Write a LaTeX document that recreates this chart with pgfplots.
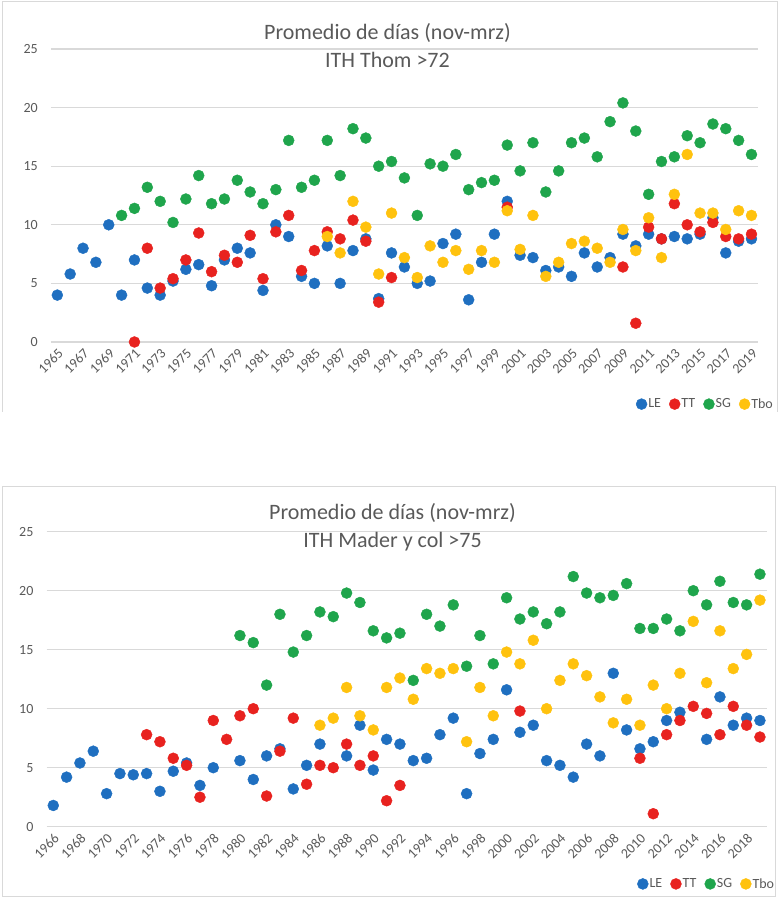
\documentclass[border=0pt]{standalone}
\usepackage{fontspec}
\setmainfont{Carlito}
\usepackage{pgfplots}
\pgfplotsset{compat=1.18}
\definecolor{cLE}{HTML}{1F6FC0}
\definecolor{cTT}{HTML}{E8221F}
\definecolor{cSG}{HTML}{1FA54C}
\definecolor{cTbo}{HTML}{FFC20E}
\definecolor{txt}{HTML}{595959}
\definecolor{grd}{HTML}{D9D9D9}
\pgfplotsset{
  excel/.style={
    scale only axis, clip=false,
    ymin=0, ymax=25, ytick={0,5,...,25},
    ymajorgrids, grid style={grd, line width=1.3pt},
    axis line style={draw=none}, major tick length=0pt,
    tick label style={font=\fontsize{14}{16}\selectfont, text=txt},
    /pgf/number format/assume math mode=true,
    /pgf/number format/1000 sep={},
    yticklabel style={anchor=east, inner sep=0pt, xshift=-13pt},
    xticklabel style={yshift=-9pt, xshift=3.5pt, rotate=45, anchor=east, inner sep=0pt},
    legend columns=4,
    legend style={draw=none, fill=none, font=\fontsize{14}{16}\selectfont, text=txt, anchor=center,
      /tikz/every even column/.append style={column sep=7pt}, nodes={inner sep=1pt}},
  },
  le/.style={only marks, mark=*, color=cLE, mark size=5.5pt, legend image code/.code={\fill[cLE] (0pt,0pt) circle (5.5pt);}},
  tt/.style={only marks, mark=*, color=cTT, mark size=5.5pt, legend image code/.code={\fill[cTT] (0pt,0pt) circle (5.5pt);}},
  sg/.style={only marks, mark=*, color=cSG, mark size=5.5pt, legend image code/.code={\fill[cSG] (0pt,0pt) circle (5.5pt);}},
  tbo/.style={only marks, mark=*, color=cTbo, mark size=5.5pt, legend image code/.code={\fill[cTbo] (0pt,0pt) circle (5.5pt);}},
}
\begin{document}
\begin{tikzpicture}[x=1pt,y=1pt]
\useasboundingbox (0pt,0pt) rectangle (780pt,899pt);
\draw[grd, line width=1pt] (2pt,487pt) -- (2pt,897pt) -- (777pt,897pt) -- (777pt,487pt);
\draw[grd, line width=1pt] (2pt,2pt) rectangle (775pt,412pt);
% ---------------- top chart
\begin{axis}[excel, at={(50.9pt,557pt)}, anchor=south west, width=707pt, height=293pt,
  xmin=1964.5, xmax=2019.5, xtick={1965,1967,...,2019},
  legend style={at={(0.925,-0.212)}}]
\addplot[le] coordinates {(1965,4.0) (1966,5.8) (1967,8.0) (1968,6.8) (1969,10.0) (1970,4.0) (1971,7.0) (1972,4.6) (1973,4.0) (1974,5.2) (1975,6.2) (1976,6.6) (1977,4.8) (1978,7.0) (1979,8.0) (1980,7.6) (1981,4.4) (1982,10.0) (1983,9.0) (1984,5.6) (1985,5.0) (1986,8.2) (1987,5.0) (1988,7.8) (1989,8.8) (1990,3.7) (1991,7.6) (1992,6.4) (1993,5.0) (1994,5.2) (1995,8.4) (1996,9.2) (1997,3.6) (1998,6.8) (1999,9.2) (2000,12.0) (2001,7.4) (2002,7.2) (2003,6.1) (2004,6.4) (2005,5.6) (2006,7.6) (2007,6.4) (2008,7.2) (2009,9.2) (2010,8.2) (2011,9.2) (2012,8.8) (2013,9.0) (2014,8.8) (2015,9.2) (2016,10.6) (2017,7.6) (2018,8.6) (2019,8.8)};
\addlegendentry{LE}
\addplot[tt] coordinates {(1971,0) (1972,8.0) (1973,4.6) (1974,5.4) (1975,7.0) (1976,9.3) (1977,6.0) (1978,7.4) (1979,6.8) (1980,9.1) (1981,5.4) (1982,9.4) (1983,10.8) (1984,6.1) (1985,7.8) (1986,9.4) (1987,8.8) (1988,10.4) (1989,8.6) (1990,3.4) (1991,5.5) (2000,11.5) (2009,6.4) (2010,1.6) (2011,9.8) (2012,8.8) (2013,11.8) (2014,10.0) (2015,9.4) (2016,10.2) (2017,9.0) (2018,8.8) (2019,9.2)};
\addlegendentry{TT}
\addplot[sg] coordinates {(1970,10.8) (1971,11.4) (1972,13.2) (1973,12.0) (1974,10.2) (1975,12.2) (1976,14.2) (1977,11.8) (1978,12.2) (1979,13.8) (1980,12.8) (1981,11.8) (1982,13.0) (1983,17.2) (1984,13.2) (1985,13.8) (1986,17.2) (1987,14.2) (1988,18.2) (1989,17.4) (1990,15.0) (1991,15.4) (1992,14.0) (1993,10.8) (1994,15.2) (1995,15.0) (1996,16.0) (1997,13.0) (1998,13.6) (1999,13.8) (2000,16.8) (2001,14.6) (2002,17.0) (2003,12.8) (2004,14.6) (2005,17.0) (2006,17.4) (2007,15.8) (2008,18.8) (2009,20.4) (2010,18.0) (2011,12.6) (2012,15.4) (2013,15.8) (2014,17.6) (2015,17.0) (2016,18.6) (2017,18.2) (2018,17.2) (2019,16.0)};
\addlegendentry{SG}
\addplot[tbo] coordinates {(1986,9.0) (1987,7.6) (1988,12.0) (1989,9.8) (1990,5.8) (1991,11.0) (1992,7.2) (1993,5.5) (1994,8.2) (1995,6.8) (1996,7.8) (1997,6.2) (1998,7.8) (1999,6.8) (2000,11.2) (2001,7.9) (2002,10.8) (2003,5.6) (2004,6.8) (2005,8.4) (2006,8.6) (2007,8.0) (2008,6.8) (2009,9.6) (2010,7.8) (2011,10.6) (2012,7.2) (2013,12.6) (2014,16.0) (2015,11.0) (2016,11.0) (2017,9.6) (2018,11.2) (2019,10.8)};
\addlegendentry{Tbo}
\end{axis}
\node[font=\fontsize{22}{26}\selectfont, text=txt] at (387.5pt,866pt) {Promedio de días (nov-mrz)};
\node[font=\fontsize{22}{26}\selectfont, text=txt] at (387.5pt,839pt) {ITH Thom >72};
% ---------------- bottom chart
\begin{axis}[excel, at={(46.6pt,72.3pt)}, anchor=south west, width=720pt, height=295pt,
  xmin=1965.5, xmax=2019.5, xtick={1966,1968,...,2018},
  legend style={at={(0.916,-0.194)}}]
\addplot[le] coordinates {(1966,1.8) (1967,4.2) (1968,5.4) (1969,6.4) (1970,2.8) (1971,4.5) (1972,4.4) (1973,4.5) (1974,3.0) (1975,4.7) (1976,5.4) (1977,3.5) (1978,5.0) (1980,5.6) (1981,4.0) (1982,6.0) (1983,6.6) (1984,3.2) (1985,5.2) (1986,7.0) (1988,6.0) (1989,8.6) (1990,4.8) (1991,7.4) (1992,7.0) (1993,5.6) (1994,5.8) (1995,7.8) (1996,9.2) (1997,2.8) (1998,6.2) (1999,7.4) (2000,11.6) (2001,8.0) (2002,8.6) (2003,5.6) (2004,5.2) (2005,4.2) (2006,7.0) (2007,6.0) (2008,13.0) (2009,8.2) (2010,6.6) (2011,7.2) (2012,9.0) (2013,9.7) (2015,7.4) (2016,11.0) (2017,8.6) (2018,9.2) (2019,9.0)};
\addlegendentry{LE}
\addplot[tt] coordinates {(1973,7.8) (1974,7.2) (1975,5.8) (1976,5.2) (1977,2.5) (1978,9.0) (1979,7.4) (1980,9.4) (1981,10.0) (1982,2.6) (1983,6.4) (1984,9.2) (1985,3.6) (1986,5.2) (1987,5.0) (1988,7.0) (1989,5.2) (1990,6.0) (1991,2.2) (1992,3.5) (2001,9.8) (2010,5.8) (2011,1.1) (2012,7.8) (2013,9.0) (2014,10.2) (2015,9.6) (2016,7.8) (2017,10.2) (2018,8.6) (2019,7.6)};
\addlegendentry{TT}
\addplot[sg] coordinates {(1980,16.2) (1981,15.6) (1982,12.0) (1983,18.0) (1984,14.8) (1985,16.2) (1986,18.2) (1987,17.8) (1988,19.8) (1989,19.0) (1990,16.6) (1991,16.0) (1992,16.4) (1993,12.4) (1994,18.0) (1995,17.0) (1996,18.8) (1997,13.6) (1998,16.2) (1999,13.8) (2000,19.4) (2001,17.6) (2002,18.2) (2003,17.2) (2004,18.2) (2005,21.2) (2006,19.8) (2007,19.4) (2008,19.6) (2009,20.6) (2010,16.8) (2011,16.8) (2012,17.6) (2013,16.6) (2014,20.0) (2015,18.8) (2016,20.8) (2017,19.0) (2018,18.8) (2019,21.4)};
\addlegendentry{SG}
\addplot[tbo] coordinates {(1986,8.6) (1987,9.2) (1988,11.8) (1989,9.4) (1990,8.2) (1991,11.8) (1992,12.6) (1993,10.8) (1994,13.4) (1995,13.0) (1996,13.4) (1997,7.2) (1998,11.8) (1999,9.4) (2000,14.8) (2001,13.8) (2002,15.8) (2003,10.0) (2004,12.4) (2005,13.8) (2006,12.8) (2007,11.0) (2008,8.8) (2009,10.8) (2010,8.6) (2011,12.0) (2012,10.0) (2013,13.0) (2014,17.4) (2015,12.2) (2016,16.6) (2017,13.4) (2018,14.6) (2019,19.2)};
\addlegendentry{Tbo}
\end{axis}
\node[font=\fontsize{22}{26}\selectfont, text=txt] at (392.5pt,386pt) {Promedio de días (nov-mrz)};
\node[font=\fontsize{22}{26}\selectfont, text=txt] at (392.5pt,357pt) {ITH Mader y col >75};
\end{tikzpicture}
\end{document}
